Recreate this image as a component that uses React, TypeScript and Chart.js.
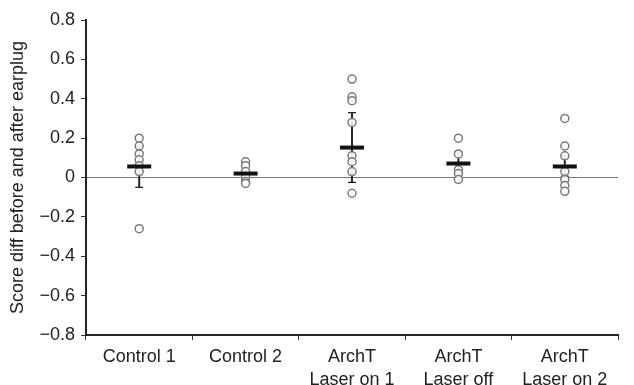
import React, { useEffect, useRef } from "react";
import { Chart, registerables } from "chart.js";

Chart.register(...registerables);

const categories: string[][] = [
  ["Control 1"],
  ["Control 2"],
  ["ArchT", "Laser on 1"],
  ["ArchT", "Laser off"],
  ["ArchT", "Laser on 2"],
];
const categoryNames = categories.map((c) => c.join(" "));

const control1 = [0.2, 0.16, 0.12, 0.09, 0.06, 0.03, -0.26];
const control2 = [0.08, 0.06, 0.03, 0.0, -0.02, -0.03];
const laserOn1 = [0.5, 0.41, 0.39, 0.28, 0.11, 0.08, 0.03, -0.08];
const laserOff = [0.2, 0.12, 0.04, 0.02, -0.01];
const laserOn2 = [0.3, 0.16, 0.11, 0.03, -0.01, -0.04, -0.07];

const groups = [control1, control2, laserOn1, laserOff, laserOn2];
const means = [0.056, 0.02, 0.152, 0.071, 0.056];
const errLow = [-0.05, 0.0, -0.025, 0.02, 0.005];
const errHigh = [0.16, 0.04, 0.33, 0.13, 0.11];

const yTicks = [0.8, 0.6, 0.4, 0.2, 0, -0.2, -0.4, -0.6, -0.8];

const FONT = "'Liberation Sans', Arial, Helvetica, sans-serif";

export default function App() {
  const ref = useRef<HTMLCanvasElement | null>(null);

  useEffect(() => {
    if (!ref.current) return;
    const points = groups.flatMap((g, i) => g.map((v) => ({ x: categoryNames[i], y: v })));
    const meanPts = means.map((m, i) => ({ x: categoryNames[i], y: m }));
    const caps = [
      ...errLow.map((v, i) => ({ x: categoryNames[i], y: v })),
      ...errHigh.map((v, i) => ({ x: categoryNames[i], y: v })),
    ];
    const chart = new Chart(ref.current, {
      type: "bar",
      data: {
        labels: categoryNames,
        datasets: [
          {
            type: "scatter",
            data: meanPts,
            pointStyle: "line",
            pointRadius: 12,
            borderWidth: 4,
            borderColor: "#111",
            order: 0,
          } as any,
          {
            type: "scatter",
            data: points,
            pointStyle: "circle",
            pointRadius: 4,
            borderWidth: 1.5,
            borderColor: "#7a7a7a",
            backgroundColor: "rgba(255,255,255,0.9)",
            order: 1,
          } as any,
          {
            type: "scatter",
            data: caps,
            pointStyle: "line",
            pointRadius: 4,
            borderWidth: 1.3,
            borderColor: "#222",
            order: 2,
          } as any,
          {
            type: "bar",
            data: errLow.map((v, i) => [v, errHigh[i]]),
            barThickness: 1.3,
            backgroundColor: "#222",
            borderWidth: 0,
            order: 3,
          } as any,
        ],
      },
      options: {
        animation: false,
        responsive: true,
        maintainAspectRatio: false,
        layout: { padding: { top: 20, right: 12, left: 0, bottom: 0 } },
        plugins: { legend: { display: false }, tooltip: { enabled: false } },
        scales: {
          x: {
            type: "category",
            offset: true,
            grid: {
              offset: true,
              drawOnChartArea: false,
              tickLength: 5,
              color: "#333",
            },
            border: { color: "#222", width: 2 },
            ticks: {
              color: "#222",
              font: { family: FONT, size: 18, lineHeight: 1.3 },
              padding: 5,
              maxRotation: 0,
              autoSkip: false,
              callback: (_v: any, i: number) => categories[i],
            },
            afterFit: (s: any) => {
              s.height = 50;
            },
          },
          y: {
            type: "linear",
            min: -0.8,
            max: 0.8,
            afterBuildTicks: (s: any) => {
              s.ticks = yTicks.map((v) => ({ value: v }));
            },
            grid: {
              color: (c: any) =>
                c.tick && Math.abs(c.tick.value) < 1e-9 ? "#777" : "rgba(0,0,0,0)",
              lineWidth: 1,
              tickColor: "#333",
              tickLength: 5,
            },
            border: { color: "#222", width: 2 },
            ticks: {
              color: "#222",
              font: { family: FONT, size: 18 },
              padding: 6,
              callback: (v: any) => {
                const n = Number(Number(v).toFixed(1));
                return n < 0 ? "\u2212" + String(-n) : String(n);
              },
            },
            title: {
              display: true,
              text: "Score diff before and after earplug",
              color: "#222",
              font: { family: FONT, size: 18 },
              padding: { top: 7, bottom: 4 },
            },
            afterFit: (s: any) => {
              s.width = 86;
            },
          },
        },
      },
    });
    return () => chart.destroy();
  }, []);

  return (
    <div style={{ position: "fixed", left: 0, top: 0, width: 634, height: 385, background: "#fff" }}>
      <canvas ref={ref} />
    </div>
  );
}
